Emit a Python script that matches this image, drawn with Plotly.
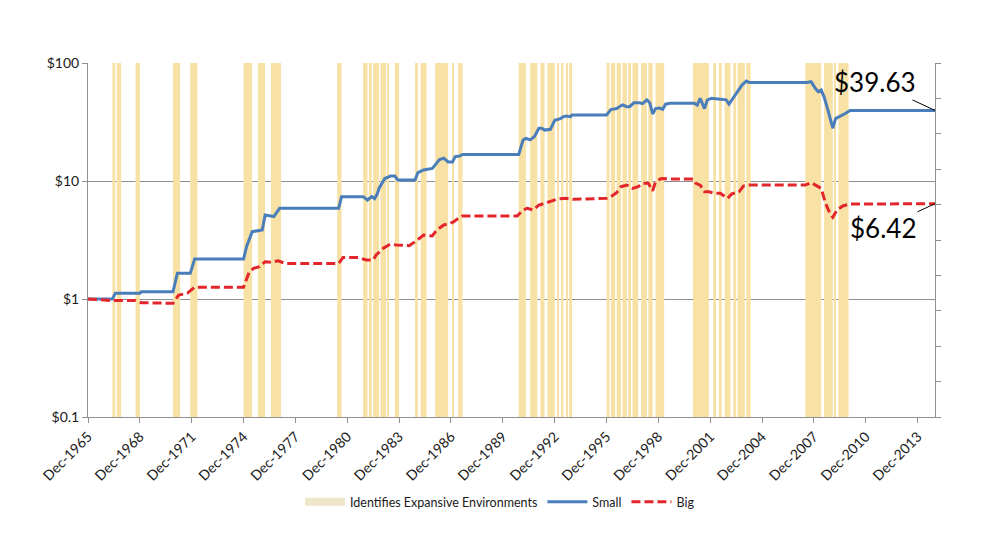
import math
import pandas as pd
import plotly.graph_objects as go

# ---- data ----
small_dates = ["1965-12","1967-05","1967-07","1968-12","1969-01","1970-11","1971-02","1971-11","1972-02",
               "1974-12","1975-02","1975-06","1976-01","1976-03","1976-09","1977-01","1980-06","1980-08",
               "1981-11","1982-02","1982-05","1982-07","1982-09","1982-10","1983-02","1983-06","1983-09",
               "1983-11","1984-11","1985-01","1985-05","1985-11","1986-01","1986-04","1986-07","1986-10",
               "1987-01","1987-03","1987-06","1987-08","1990-11","1991-02","1991-04","1991-07","1991-10",
               "1992-01","1992-03","1992-05","1992-09","1992-12","1993-04","1993-06","1993-08","1993-11",
               "1993-12","1995-12","1996-03","1996-07","1996-11","1997-02","1997-04","1997-07","1997-11",
               "1998-01","1998-04","1998-06","1998-08","1998-10","1999-01","1999-03","1999-05","1999-08",
               "2001-01","2001-03","2001-05","2001-08","2001-10","2002-01","2002-07","2002-11","2003-01",
               "2003-03","2003-07","2003-10","2004-01","2004-03","2007-07","2007-10","2008-01","2008-03",
               "2008-05","2008-07","2008-10","2008-12","2009-01","2009-03","2009-06","2009-08","2009-10",
               "2010-01","2014-12"]
small_values = [1.00,1.00,1.12,1.12,1.15,1.15,1.65,1.65,2.18,
                2.18,2.77,3.72,3.84,5.15,5.00,5.87,5.87,7.37,
                7.37,6.90,7.37,7.10,7.86,8.66,10.5,11.0,11.0,
                10.2,10.2,11.8,12.4,12.8,13.7,15.2,15.6,14.5,
                14.5,16.1,16.3,16.8,16.8,22.3,23.0,22.3,23.8,
                28.0,28.0,27.0,27.4,32.7,33.8,35.1,35.5,35.1,
                36.3,36.3,40.3,41.1,44.2,42.6,42.6,46.0,46.0,
                45.3,48.7,46.0,37.0,41.1,41.5,40.5,44.8,45.5,
                45.5,44.0,50.2,41.1,48.7,50.2,49.3,48.7,44.8,
                48.7,57.0,65.0,70.3,68.5,68.5,69.5,60.8,57.0,
                59.0,51.7,38.6,31.7,28.0,33.8,35.1,36.3,37.5,
                39.63,39.63]

big_dates = ["1965-12","1967-05","1968-09","1969-01","1970-11","1971-03","1971-09","1972-02","1974-12",
             "1975-04","1975-07","1975-11","1976-03","1976-07","1976-12","1977-05","1980-06","1980-09",
             "1981-08","1982-01","1982-06","1982-08","1983-01","1983-06","1983-10","1984-07","1984-12",
             "1985-05","1985-11","1986-02","1986-07","1986-10","1987-02","1987-05","1987-08","1990-10",
             "1991-02","1991-05","1991-09","1992-01","1992-05","1992-10","1993-02","1993-08","1994-01",
             "1995-12","1996-03","1996-07","1996-10","1997-02","1997-06","1997-10","1998-01","1998-05",
             "1998-08","1998-10","1999-02","1999-08","2000-12","2001-02","2001-05","2001-08","2001-11",
             "2002-03","2002-07","2002-12","2003-03","2003-08","2003-11","2004-03","2007-06","2007-10",
             "2008-01","2008-05","2008-08","2008-11","2009-01","2009-04","2009-08","2010-01","2014-12"]
big_values = [1.00,0.97,0.97,0.93,0.92,1.08,1.12,1.26,1.26,
              1.70,1.82,1.88,2.07,2.05,2.11,2.00,2.00,2.25,
              2.25,2.14,2.14,2.36,2.69,2.92,2.87,2.83,3.12,
              3.48,3.42,3.84,4.24,4.32,4.52,4.82,5.05,5.05,
              5.68,5.87,5.68,6.25,6.46,6.80,7.04,7.13,7.00,
              7.13,7.37,7.97,8.95,9.23,8.66,8.95,9.55,9.55,
              8.28,9.86,10.5,10.4,10.4,9.55,9.23,8.10,8.10,
              7.86,7.86,7.13,7.77,8.10,9.06,9.23,9.23,9.70,
              9.23,8.66,6.46,5.32,4.92,5.68,6.14,6.38,6.42]

band_starts = ["1967-05","1967-08","1968-09","1970-11","1971-11","1974-12","1975-10","1976-07",
               "1980-05","1981-11","1982-03","1982-06","1982-11","1983-04","1983-09","1984-11",
               "1985-03","1986-01","1987-01","1987-05","1990-11","1991-07","1992-02","1992-07",
               "1993-02","1993-05","1993-08","1993-10","1995-12","1996-03","1996-07","1996-11",
               "1997-03","1997-06","1997-12","1998-05","1998-10","2000-12","2002-02","2002-06",
               "2002-10","2003-04","2003-07","2004-01","2007-06","2008-07","2009-02","2009-05"]
band_ends = ["1967-07","1967-11","1968-12","1971-04","1972-04","1975-06","1976-03","1977-02",
             "1980-08","1982-02","1982-05","1982-10","1983-03","1983-05","1983-12","1985-01",
             "1985-07","1986-10","1987-02","1987-08","1991-04","1991-12","1992-05","1992-12",
             "1993-03","1993-06","1993-09","1993-12","1996-02","1996-06","1996-10","1997-02",
             "1997-05","1997-10","1998-04","1998-08","1999-04","2001-11","2002-04","2002-08",
             "2003-02","2003-06","2003-12","2004-04","2008-05","2009-01","2009-03","2009-12"]
band_flag = [1] * len(band_starts)

y_tick_values = [0.1, 1, 10, 100]
y_tick_labels = ["$0.1", "$1", "$10", "$100"]

# ---- figure ----
FONT = "Lato"
GRID = "#8f8f8f"
TXT = "#1a1a1a"
BAND = "#F7E1A5"

bs = pd.to_datetime(band_starts)
be = pd.to_datetime(band_ends)
band_width_ms = [(e - s).total_seconds() * 1000 for s, e in zip(bs, be)]

fig = go.Figure()

fig.add_trace(go.Bar(
    x=bs, y=band_flag, width=band_width_ms, offset=0,
    name="Identifies Expansive Environments", showlegend=False,
    legendgroup="bands",
    marker=dict(color=BAND, line=dict(width=0)),
    yaxis="y", hoverinfo="skip"))

# legend-only entry for the bands (wide swatch like the reference)
fig.add_trace(go.Scatter(
    x=[None], y=[None], mode="lines", name="Identifies Expansive Environments",
    legendgroup="bands", line=dict(color="#EEE6C9", width=8), yaxis="y"))

fig.add_trace(go.Scatter(
    x=pd.to_datetime(small_dates), y=small_values, name="Small", mode="lines",
    line=dict(color="#4A7EBB", width=3), yaxis="y2"))

fig.add_trace(go.Scatter(
    x=pd.to_datetime(big_dates), y=big_values, name="Big", mode="lines",
    line=dict(color="#E3262B", width=3, dash="9px,4px"), yaxis="y2"))

end_date = pd.to_datetime(small_dates[-1])
fig.add_annotation(x=end_date, y=math.log10(small_values[-1]), yref="y2", xref="x",
                   text="$%.2f" % small_values[-1], showarrow=True, arrowhead=0,
                   arrowwidth=1, arrowcolor="#000000", ax=-60, ay=-28,
                   font=dict(family=FONT, size=26, color="#000000"))
fig.add_annotation(x=end_date, y=math.log10(big_values[-1]), yref="y2", xref="x",
                   text="$%.2f" % big_values[-1], showarrow=True, arrowhead=0,
                   arrowwidth=1, arrowcolor="#000000", ax=-52, ay=24,
                   font=dict(family=FONT, size=26, color="#000000"))

fig.update_layout(
    width=1000, height=547,
    margin=dict(l=88, r=65, t=63, b=130, autoexpand=False),
    paper_bgcolor="white", plot_bgcolor="white",
    font=dict(family=FONT, size=12, color=TXT),
    barmode="overlay",
    showlegend=True,
    legend=dict(orientation="h", xref="container", yref="container",
                x=0.5, xanchor="center", y=0.082, yanchor="middle",
                font=dict(family=FONT, size=12.5, color=TXT),
                traceorder="normal", itemwidth=40),
    xaxis=dict(type="date", range=["1965-12-01", "2014-12-01"],
               tick0="1965-12-01", dtick="M36", tickformat="%b-%Y",
               tickangle=-45, ticks="outside", ticklen=5, tickcolor=GRID,
               showline=True, linecolor=GRID, linewidth=1, showgrid=False,
               automargin=False,
               tickfont=dict(family=FONT, size=14, color=TXT)),
    yaxis=dict(range=[0, 1], side="right", dtick=0.1, ticks="outside", ticklen=5,
               tickcolor=GRID, showticklabels=False, showgrid=False,
               showline=True, linecolor=GRID, linewidth=1, zeroline=False,
               automargin=False, fixedrange=True),
    yaxis2=dict(type="log", range=[-1, 2], overlaying="y", side="left",
                tickvals=y_tick_values, ticktext=y_tick_labels,
                ticks="outside", ticklen=5, tickcolor=GRID,
                showgrid=True, gridcolor=GRID, gridwidth=1,
                showline=True, linecolor=GRID, linewidth=1, zeroline=False,
                automargin=False,
                tickfont=dict(family=FONT, size=14, color=TXT)),
)

fig.write_html("out.html", config={"displayModeBar": False},
               post_script="document.body.style.margin='0';")
